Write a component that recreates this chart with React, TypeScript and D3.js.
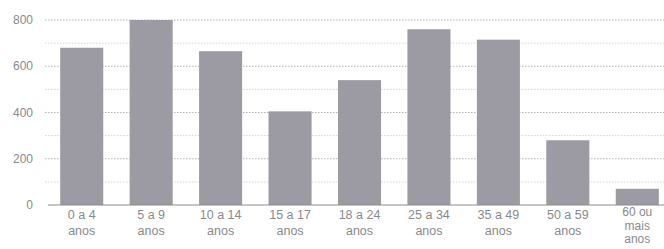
import React from "react";
import * as d3 from "d3";

const categories = [
  ["0 a 4", "anos"],
  ["5 a 9", "anos"],
  ["10 a 14", "anos"],
  ["15 a 17", "anos"],
  ["18 a 24", "anos"],
  ["25 a 34", "anos"],
  ["35 a 49", "anos"],
  ["50 a 59", "anos"],
  ["60 ou", "mais", "anos"],
];
const values = [680, 800, 665, 405, 540, 760, 715, 280, 70];
const yTicks = [0, 200, 400, 600, 800];
const gridValues = [100, 200, 300, 400, 500, 600, 700, 800];

const W = 664;
const H = 249;

export default function App() {
  const keys = categories.map((c) => c.join(" "));
  const x = d3
    .scaleBand<string>()
    .domain(keys)
    .range([47, 672])
    .paddingInner(0.38)
    .paddingOuter(0.19);
  const y = d3.scaleLinear().domain([0, 800]).range([205, 20]);

  const textColor = "#8a8a8e";

  return (
    <svg
      width={W}
      height={H}
      style={{ position: "absolute", left: 0, top: 0, background: "#fff" }}
      fontFamily="'Liberation Sans', Arial, sans-serif"
    >
      {gridValues.map((v) => (
        <line
          key={v}
          x1={45}
          x2={W}
          y1={y(v)}
          y2={y(v)}
          stroke={v % 200 === 0 ? "#b4b4b8" : "#d4d4d8"}
          strokeWidth={1}
          strokeDasharray="1.5,1.5"
        />
      ))}
      {values.map((v, i) => (
        <rect
          key={keys[i]}
          x={x(keys[i])}
          y={y(v)}
          width={x.bandwidth()}
          height={y(0) - y(v)}
          fill="#9c9ba4"
        />
      ))}
      <line x1={48} x2={W} y1={y(0)} y2={y(0)} stroke="#8c8c90" strokeWidth={1.2} />
      {yTicks.map((t) => (
        <text
          key={t}
          x={33}
          y={y(t)}
          dy="0.35em"
          textAnchor="end"
          fontSize={12}
          fill={textColor}
        >
          {t}
        </text>
      ))}
      {categories.map((lines, i) => {
        const cx = (x(keys[i]) as number) + x.bandwidth() / 2;
        const three = lines.length > 2;
        return (
          <text
            key={keys[i]}
            x={cx}
            y={three ? 216 : 219}
            textAnchor="middle"
            fontSize={three ? 12 : 12.5}
            fill={textColor}
          >
            {lines.map((l, j) => (
              <tspan key={j} x={cx} dy={j === 0 ? 0 : three ? 13.5 : 16}>
                {l}
              </tspan>
            ))}
          </text>
        );
      })}
    </svg>
  );
}
